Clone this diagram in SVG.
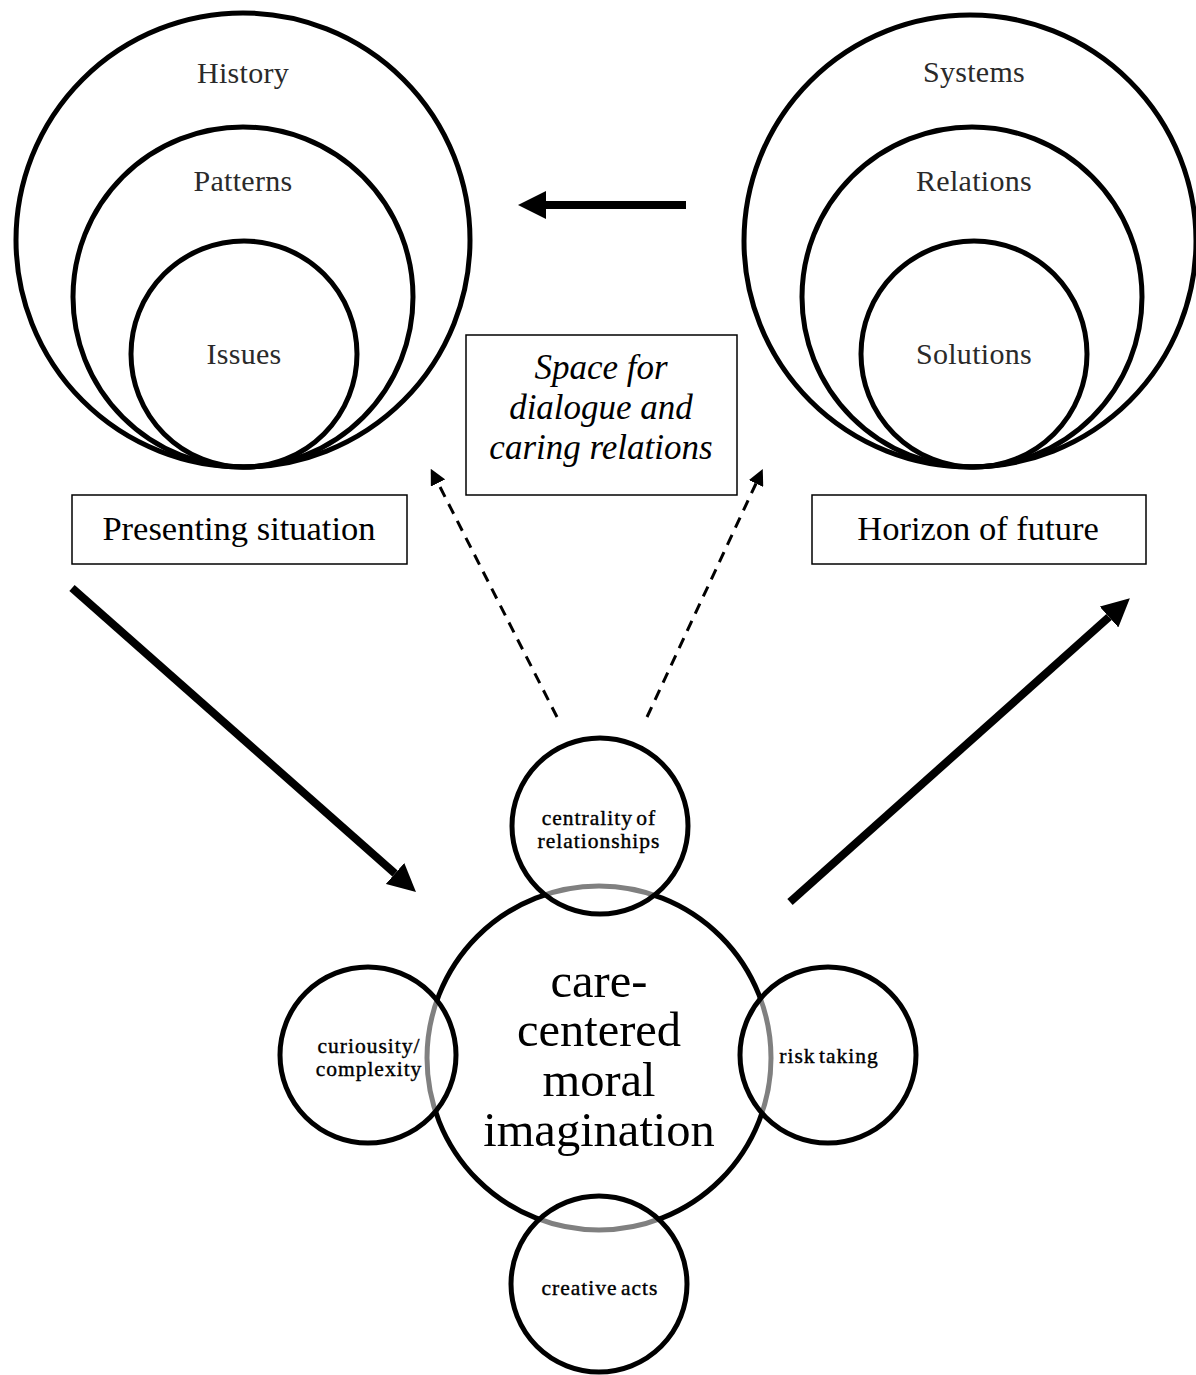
<svg xmlns="http://www.w3.org/2000/svg" width="1196" height="1375" viewBox="0 0 1196 1375">
<style>
.ring{fill:none;stroke:#000;stroke-width:5}
.small{fill:#fff;fill-opacity:0.5;stroke:#000;stroke-width:5}
.box{fill:#fff;stroke:#000;stroke-width:1.5}
text{font-family:"Liberation Serif","Times New Roman",serif;text-anchor:middle}
.lbl{font-size:30px;fill:#2a2a2a;letter-spacing:0.3px}
.boxt{font-size:34.5px;fill:#000}
.it{font-size:35px;font-style:italic;fill:#000}
.big{font-size:48.5px;fill:#000}
.sm{font-size:21.5px;fill:#000;stroke:#000;stroke-width:0.4;letter-spacing:1px;word-spacing:-3px}
.thick{stroke:#000;stroke-width:8;fill:none}
.dash{stroke:#000;stroke-width:3;fill:none;stroke-dasharray:11 8}
</style>
<defs>
<marker id="head" viewBox="0 0 10 10" refX="0" refY="5" markerWidth="28" markerHeight="28" markerUnits="userSpaceOnUse" orient="auto">
<path d="M0,0 L10,5 L0,10 z" fill="#000"/>
</marker>
<marker id="dhead" viewBox="0 0 10 10" refX="0" refY="5" markerWidth="16" markerHeight="16" markerUnits="userSpaceOnUse" orient="auto">
<path d="M0,0 L10,5 L0,10 z" fill="#000"/>
</marker>
</defs>
<rect width="1196" height="1375" fill="#fff"/>

<g id="presenting-circles">
<circle class="ring" cx="243" cy="240" r="227"/>
<circle class="ring" cx="243" cy="297" r="170"/>
<circle class="ring" cx="244" cy="354" r="113"/>
<text class="lbl" x="243" y="83">History</text>
<text class="lbl" x="243" y="191">Patterns</text>
<text class="lbl" x="244" y="364">Issues</text>
</g>

<g id="future-circles">
<circle class="ring" cx="970" cy="241" r="226"/>
<circle class="ring" cx="972" cy="297" r="170"/>
<circle class="ring" cx="974" cy="354" r="113"/>
<text class="lbl" x="974" y="82">Systems</text>
<text class="lbl" x="974" y="191">Relations</text>
<text class="lbl" x="974" y="364">Solutions</text>
</g>

<g id="space-box">
<rect class="box" x="466" y="335" width="271" height="160"/>
<text class="it" x="601" y="379">Space for</text>
<text class="it" x="601" y="419">dialogue and</text>
<text class="it" x="601" y="459">caring relations</text>
</g>

<g id="presenting-box">
<rect class="box" x="72" y="495" width="335" height="69"/>
<text class="boxt" x="239" y="540">Presenting situation</text>
</g>

<g id="horizon-box">
<rect class="box" x="812" y="495" width="334" height="69"/>
<text class="boxt" x="978" y="540">Horizon of future</text>
</g>

<g id="connectors">
<line class="thick" x1="686" y1="205" x2="546" y2="205" marker-end="url(#head)"/>
<line class="thick" x1="72" y1="588" x2="395" y2="873.5" marker-end="url(#head)"/>
<line class="thick" x1="790" y1="902" x2="1109" y2="617" marker-end="url(#head)"/>
<line class="dash" x1="557" y1="717" x2="438" y2="483" marker-end="url(#dhead)"/>
<line class="dash" x1="647" y1="717" x2="756" y2="483.5" marker-end="url(#dhead)"/>
</g>

<g id="core">
<circle class="ring" cx="599" cy="1058" r="172"/>
<text class="big" x="599" y="997">care-</text>
<text class="big" x="599" y="1046">centered</text>
<text class="big" x="599" y="1096">moral</text>
<text class="big" x="599" y="1146">imagination</text>
</g>

<g id="centrality">
<circle class="small" cx="600" cy="826" r="88"/>
<text class="sm" x="599" y="825">centrality of</text>
<text class="sm" x="599" y="848">relationships</text>
</g>

<g id="curiosity">
<circle class="small" cx="368" cy="1055" r="88"/>
<text class="sm" x="369" y="1053">curiousity/</text>
<text class="sm" x="369" y="1076">complexity</text>
</g>

<g id="risk">
<circle class="small" cx="828" cy="1055" r="88"/>
<text class="sm" x="829" y="1063">risk taking</text>
</g>

<g id="creative">
<circle class="small" cx="599" cy="1284" r="88"/>
<text class="sm" x="600" y="1295">creative acts</text>
</g>
</svg>
